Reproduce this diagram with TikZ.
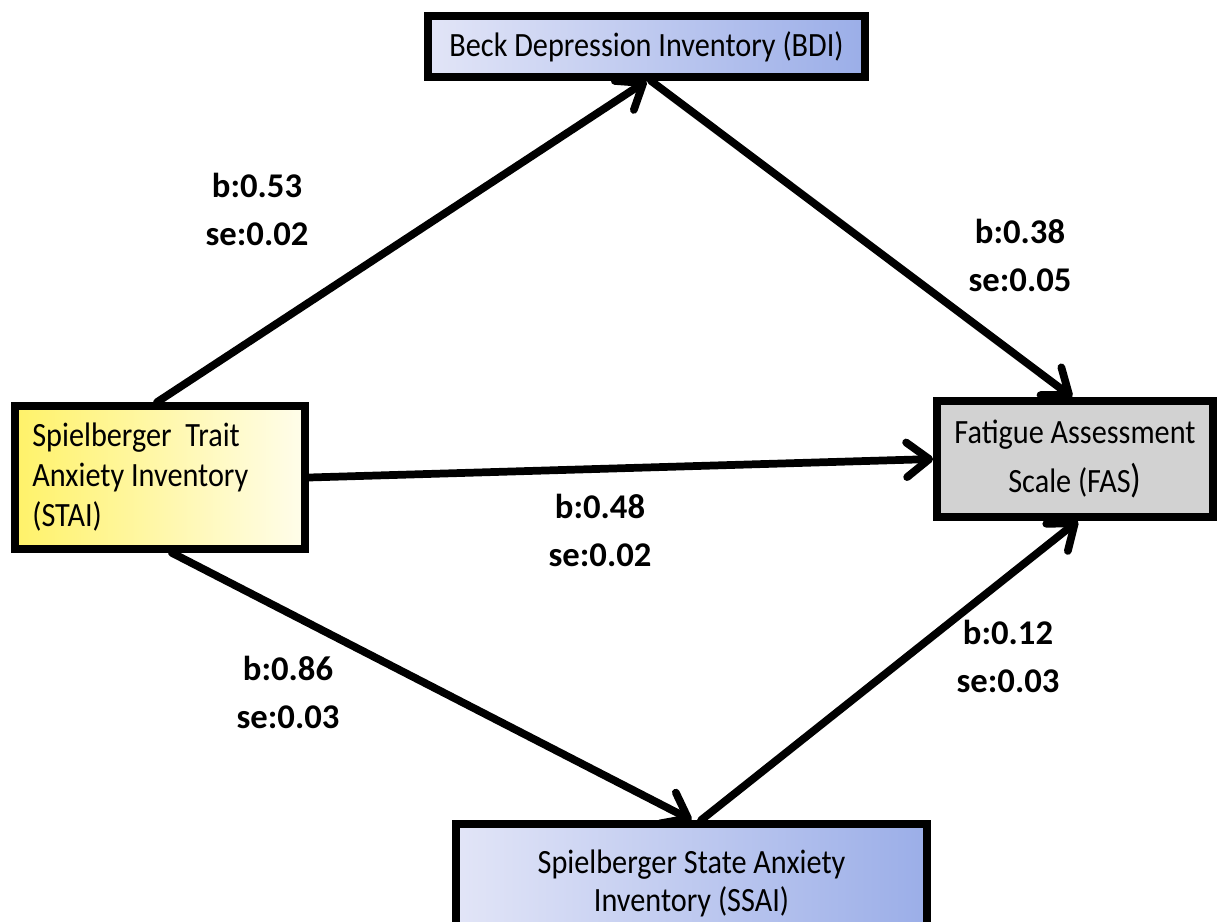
\documentclass[tikz,border=0pt]{standalone}
\usepackage{fontspec}
\setmainfont{Carlito}
\newfontfamily\boxfont[FakeStretch=0.89]{Carlito}
\newfontfamily\lblfont{Carlito}
\usetikzlibrary{arrows.meta,calc}
\definecolor{blueL}{RGB}{226,229,247}
\definecolor{blueR}{RGB}{155,174,232}
\definecolor{yelL}{RGB}{255,242,105}
\definecolor{yelR}{RGB}{255,253,235}
\definecolor{fasgray}{RGB}{210,210,210}
\tikzset{
  box/.style={draw=black, line width=5.8pt, rectangle, inner sep=0pt,
    font=\boxfont\fontsize{25.5}{30}\selectfont},
  lbl/.style={font=\lblfont\bfseries\fontsize{26}{36}\selectfont, align=center, inner sep=0pt},
  conn/.style={line width=5.8pt, line cap=round, -{Straight Barb[length=17pt,width=26pt,round]}}
}
\begin{document}
\begin{tikzpicture}[x=0.75pt,y=-0.75pt]
\useasboundingbox (0,0) rectangle (1217,921);
\clip (0,0) rectangle (1217,921);
\fill[white] (0,0) rectangle (1217,921);
% nodes
\node[box, left color=blueL, right color=blueR, minimum width=327.75pt, minimum height=45.75pt]
  (bdi) at (646.5,46.5) {Beck Depression Inventory (BDI)};
\node[box, left color=yelL, right color=yelR, minimum width=217.5pt, minimum height=107.25pt,
  inner xsep=13pt, text width=191.5pt, align=flush left]
  (stai) at (160,477.5) {Spielberger\ \ Trait\\Anxiety Inventory\\(STAI)};
\node[box, fill=fasgray, minimum width=207pt, minimum height=87pt, align=center,
  font=\boxfont\fontsize{25.5}{36.75}\selectfont]
  (fas) at (1075,459) {Fatigue Assessment\\Scale (FAS{\fontsize{30}{30}\selectfont)}};
\node[box, left color=blueL, right color=blueR, minimum width=353.25pt, minimum height=89.25pt,
  align=center, font=\boxfont\fontsize{25.5}{28.5}\selectfont]
  (ssai) at (691.5,883.5) {Spielberger State Anxiety\\Inventory (SSAI)};
% connectors
\draw[conn] ($(stai.north west)!0.49!(stai.north east)$) -- (bdi.south);
\draw[conn] ($(bdi.south west)!0.51!(bdi.south east)$) -- ($(fas.north west)!0.49!(fas.north east)$);
\draw[conn] (stai.east) -- (fas.west);
\draw[conn] ($(stai.south west)!0.54!(stai.south east)$) -- (ssai.north);
\draw[conn] ($(ssai.north west)!0.52!(ssai.north east)$) -- ($(fas.south west)!0.51!(fas.south east)$);
% labels
\node[lbl] (l1) at (257,209) {b:0.53\\se:0.02};
\node[lbl] (l2) at (1020,255) {b:0.38\\se:0.05};
\node[lbl] (l3) at (600,530) {b:0.48\\se:0.02};
\node[lbl] (l4) at (288,692) {b:0.86\\se:0.03};
\node[lbl] (l5) at (1008,656) {b:0.12\\se:0.03};
\end{tikzpicture}
\end{document}
